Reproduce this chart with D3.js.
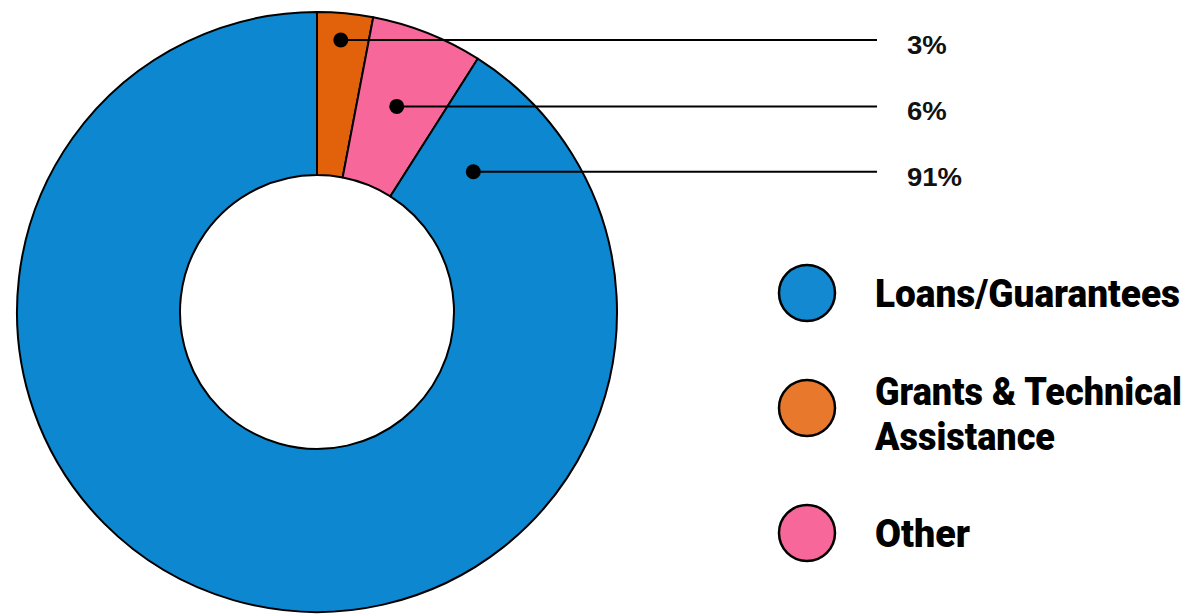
<!DOCTYPE html>
<html>
<head>
<meta charset="utf-8">
<script src="https://cdn.jsdelivr.net/npm/d3@7"></script>
<style>
  html, body { margin: 0; padding: 0; background: #fff; }
  svg { display: block; }
</style>
</head>
<body>
<svg id="chart" width="1189" height="614"></svg>
<script>
// ---- data ----
const sliceNames   = ["Grants & Technical Assistance", "Other", "Loans/Guarantees"];
const sliceValues  = [3, 6, 91];
const sliceColors  = ["#E2620C", "#F8679A", "#0D87CF"];
const pctLabels    = ["3%", "6%", "91%"];

const legendNames  = [["Loans/Guarantees"], ["Grants & Technical", "Assistance"], ["Other"]];
const legendColors = ["#1289D0", "#E8792C", "#F8679A"];

// callout anchor inside each slice (angle in degrees clockwise from top, radius fraction)
const calloutAngle = [5.0, 21.2, 48.1];
const calloutRFrac = [0.91, 0.735, 0.70];

// ---- layout ----
const cx = 317, cy = 312, rOuter = 300, rInner = 137;
const labelX = 907, lineEndX = 877;

const svg = d3.select("#chart");
const g = svg.append("g").attr("transform", `translate(${cx},${cy})`);

const pie = d3.pie().sort(null).value(d => d)(sliceValues);
const arc = d3.arc().innerRadius(rInner).outerRadius(rOuter);

g.selectAll("path.slice")
  .data(pie)
  .join("path")
  .attr("class", "slice")
  .attr("d", arc)
  .attr("fill", (d, i) => sliceColors[i])
  .attr("stroke", "#000")
  .attr("stroke-width", 2)
  .attr("stroke-linejoin", "round");

// callouts
const anchors = calloutAngle.map((a, i) => d3.pointRadial(a * Math.PI / 180, calloutRFrac[i] * rOuter));

g.selectAll("line.callout")
  .data(anchors)
  .join("line")
  .attr("class", "callout")
  .attr("x1", d => d[0])
  .attr("y1", d => d[1])
  .attr("x2", lineEndX - cx)
  .attr("y2", d => d[1])
  .attr("stroke", "#000")
  .attr("stroke-width", 2);

g.selectAll("circle.dot")
  .data(anchors)
  .join("circle")
  .attr("class", "dot")
  .attr("cx", d => d[0])
  .attr("cy", d => d[1])
  .attr("r", 7.5)
  .attr("fill", "#000");

g.selectAll("text.pct")
  .data(anchors)
  .join("text")
  .attr("class", "pct")
  .attr("transform", d => `translate(${labelX - cx},${d[1] + 14}) scale(1.1,1)`)
  .attr("font-family", "'Liberation Sans', Arial, sans-serif")
  .attr("font-weight", 700)
  .attr("font-size", 25)
  .attr("fill", "#111")
  .text((d, i) => pctLabels[i]);

// ---- legend ----
const legendYs = [293, 408, 533];
const leg = svg.append("g");
const items = leg.selectAll("g.item")
  .data(legendNames)
  .join("g")
  .attr("class", "item")
  .attr("transform", (d, i) => `translate(807,${legendYs[i]})`);

items.append("circle")
  .attr("r", 28)
  .attr("fill", (d, i) => legendColors[i])
  .attr("stroke", "#000")
  .attr("stroke-width", 2.5);

const legendWidths = {"Loans/Guarantees": 305, "Grants & Technical": 307, "Assistance": 180, "Other": 95};
items.each(function(lines) {
  const sel = d3.select(this);
  const n = lines.length;
  lines.forEach((t, k) => {
    const y = n === 1 ? 14 : (k === 0 ? -3 : 42);
    sel.append("text")
      .attr("transform", `translate(68,${y}) scale(1,1.2)`)
      .attr("font-family", "Roboto, 'Liberation Sans Narrow', sans-serif")
      .attr("font-weight", 900)
      .attr("font-size", 32)
      .attr("fill", "#000")
      .attr("textLength", legendWidths[t])
      .attr("lengthAdjust", "spacingAndGlyphs")
      .text(t);
  });
});
</script>
</body>
</html>
